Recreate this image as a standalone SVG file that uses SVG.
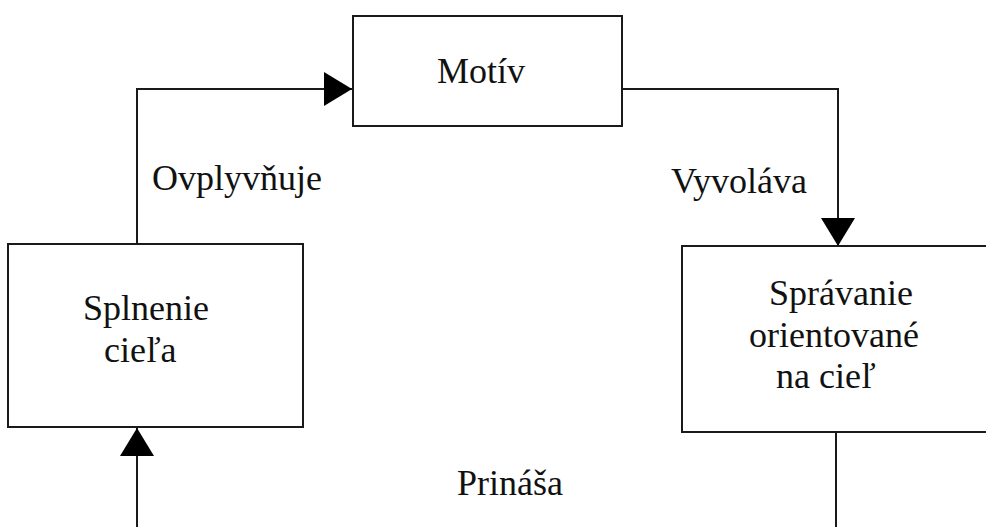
<svg xmlns="http://www.w3.org/2000/svg" width="986" height="527" viewBox="0 0 986 527">
  <style>
    .box { fill: #ffffff; stroke: #1a1a1a; stroke-width: 2; }
    .wire { fill: none; stroke: #1a1a1a; stroke-width: 2; }
    .txt { font-family: 'Liberation Serif', 'Times New Roman', serif; font-size: 36px; fill: #111111; }
  </style>
  <defs>
    <marker id="arrow" viewBox="0 0 28 34" refX="28" refY="17" markerWidth="28" markerHeight="34" markerUnits="userSpaceOnUse" orient="auto">
      <path d="M0,0 L28,17 L0,34 Z" fill="#000000"/>
    </marker>
  </defs>
  <rect width="986" height="527" fill="#ffffff"/>

  <!-- connectors and their labels -->
  <g id="connectors">
    <path class="wire" d="M137,244 V89 H352" marker-end="url(#arrow)"/>
    <path class="wire" d="M622,89 H838 V246" marker-end="url(#arrow)"/>
    <path class="wire" d="M836,432 V545 H137 V428" marker-end="url(#arrow)"/>
    <text class="txt" x="152" y="190">Ovplyvňuje</text>
    <text class="txt" x="671" y="193">Vyvoláva</text>
    <text class="txt" x="457" y="495">Prináša</text>
  </g>

  <!-- nodes -->
  <g id="motiv">
    <rect class="box" x="353" y="16" width="269" height="110"/>
    <text class="txt" x="437" y="83">Motív</text>
  </g>
  <g id="splnenie">
    <rect class="box" x="8" y="244" width="295" height="183"/>
    <text class="txt" x="83" y="320">Splnenie</text>
    <text class="txt" x="104" y="362">cieľa</text>
  </g>
  <g id="spravanie">
    <rect class="box" x="682" y="246" width="330" height="186"/>
    <text class="txt" x="769" y="305">Správanie</text>
    <text class="txt" x="749" y="347">orientované</text>
    <text class="txt" x="776" y="388">na cieľ</text>
  </g>
</svg>
